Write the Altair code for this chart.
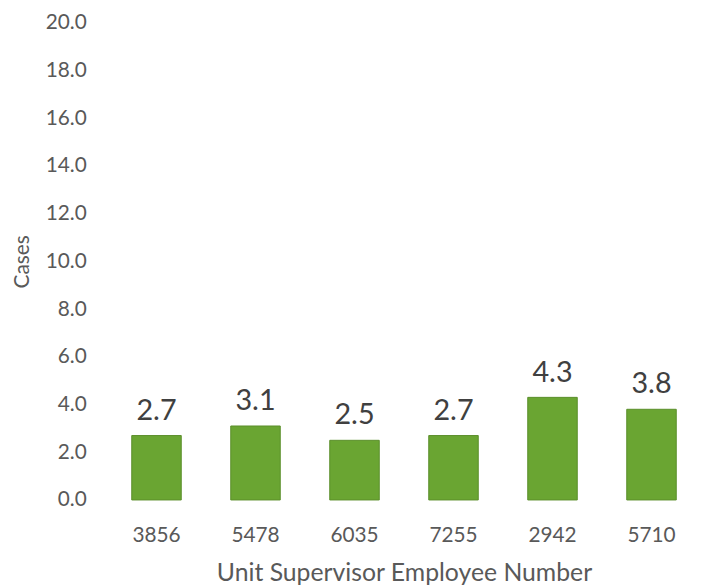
import altair as alt
import pandas as pd

employees = ["3856", "5478", "6035", "7255", "2942", "5710"]
cases = [2.7, 3.1, 2.5, 2.7, 4.3, 3.8]

df = pd.DataFrame({"Employee": employees, "Cases": cases})

FONT = "Lato"

base = alt.Chart(df).encode(
    x=alt.X(
        "Employee:N",
        sort=employees,
        scale=alt.Scale(paddingInner=0.5, paddingOuter=0.25),
        axis=alt.Axis(
            title="Unit Supervisor Employee Number",
            labelAngle=0,
            labelFontSize=21,
            labelColor="#595959",
            labelPadding=25,
            titleFontSize=25,
            titleColor="#595959",
            titleFontWeight="normal",
            titlePadding=15,
            domain=False,
            ticks=False,
            grid=False,
        ),
    ),
    y=alt.Y(
        "Cases:Q",
        scale=alt.Scale(domain=[0, 20], nice=False),
        axis=alt.Axis(
            title="Cases",
            values=[0, 2, 4, 6, 8, 10, 12, 14, 16, 18, 20],
            format=".1f",
            labelFontSize=21,
            labelColor="#595959",
            labelPadding=21,
            titleFontSize=21,
            titleColor="#595959",
            titleFontWeight="normal",
            titlePadding=13,
            domain=False,
            ticks=False,
            grid=False,
        ),
    ),
)

bars = base.mark_bar(color="#6aa532", stroke="#5b8f2b", strokeWidth=1)
labels = base.mark_text(
    baseline="bottom", dy=-10, fontSize=29, color="#404040", font=FONT
).encode(text=alt.Text("Cases:Q", format=".1f"))

chart = (
    alt.layer(bars, labels)
    .properties(
        width=600,
        height=482,
        autosize=alt.AutoSizeParams(type="none"),
        padding={"left": 100, "top": 12, "right": 0, "bottom": 86},
    )
    .configure(font=FONT)
    .configure_view(strokeWidth=0, stroke="transparent")
    .configure_axis(labelFont=FONT, titleFont=FONT, labelFontWeight="normal")
)

chart.save("out.html", embed_options={"renderer": "svg", "actions": False})
